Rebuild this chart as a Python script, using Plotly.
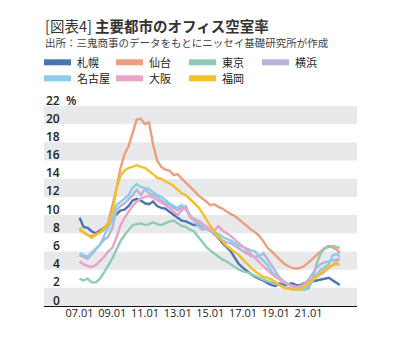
import pandas as pd
import plotly.graph_objects as go

# Quarterly sample dates (Jan/Apr/Jul/Oct) from 2007 plus the final month of 2022
dates = list(pd.date_range("2007-01-01", "2022-10-01", freq="QS").strftime("%Y-%m-%d")) + ["2022-12-01"]

# Office vacancy rate (%) by city
sapporo = [
    9.7, 8.7, 8.6, 8.2,
    8.0, 8.3, 8.5, 8.9,
    9.6, 10.1, 10.5, 10.6,
    11.0, 11.6, 11.8, 11.6,
    11.3, 11.2, 11.5, 11.0,
    10.8, 10.7, 10.4, 10.1,
    9.7, 9.4, 9.3, 9.1,
    8.9, 8.9, 8.8, 8.5,
    8.3, 7.9, 7.5, 6.9,
    6.5, 6.0, 5.3, 4.6,
    4.2, 3.8, 3.5, 3.2,
    3.0, 2.8, 2.5, 2.3,
    2.2, 2.5, 2.3, 2.4,
    2.5, 2.3, 2.3, 2.5,
    2.6, 2.7, 2.8, 2.9,
    3.0, 3.1, 2.8, 2.5,
    2.3,
]
sendai = [
    8.4, 8.1, 7.8, 7.7,
    7.9, 8.1, 8.4, 9.2,
    11.0, 12.8, 15.1, 16.7,
    17.6, 19.0, 20.5, 20.6,
    20.0, 20.2, 17.8, 16.0,
    15.3, 15.0, 14.9, 14.4,
    14.5, 14.0, 13.6, 13.1,
    12.7, 12.2, 11.9, 11.5,
    11.1, 11.2, 10.9, 10.7,
    10.4, 10.1, 9.9, 9.5,
    9.2, 8.8, 8.4, 8.1,
    7.7, 7.1, 6.4, 6.0,
    5.5, 5.1, 4.7, 4.4,
    4.2, 4.1, 4.2, 4.4,
    4.8, 5.2, 5.6, 6.1,
    6.4, 6.6, 6.4, 6.2,
    5.8,
]
tokyo = [
    3.0, 2.8, 3.0, 2.6,
    2.6, 3.0, 3.7, 4.4,
    5.2, 6.2, 7.1, 7.8,
    8.4, 8.9, 9.0, 9.1,
    8.9, 9.0, 9.2, 9.0,
    8.9, 9.1, 9.3, 9.4,
    9.1, 8.8, 8.7, 8.4,
    8.2, 7.6, 7.0, 6.5,
    6.1, 5.8, 5.5, 5.1,
    4.9, 4.6, 4.3, 4.0,
    3.8, 3.7, 3.5, 3.3,
    3.1, 2.9, 2.7, 2.6,
    2.4, 2.3, 2.1, 2.0,
    1.9, 1.8, 1.8, 1.8,
    1.9, 2.9, 4.6, 5.8,
    6.3, 6.5, 6.6, 6.5,
    6.4,
]
yokohama = [
    5.6, 5.4, 5.2, 5.7,
    6.2, 6.8, 7.3, 7.6,
    8.6, 10.5, 11.0, 11.3,
    11.7, 12.2, 12.8, 12.2,
    12.9, 12.4, 12.2, 12.0,
    11.6, 11.3, 11.1, 10.8,
    10.5, 10.8, 11.0, 9.8,
    9.4, 8.8, 8.4, 8.5,
    8.3, 7.9, 7.5, 7.2,
    7.0, 6.9, 6.6, 6.3,
    6.0, 5.7, 5.5, 5.4,
    5.5, 5.8, 5.1, 4.4,
    3.7, 3.1, 2.7, 2.4,
    2.2, 2.1, 2.2, 2.4,
    2.9, 3.6, 4.2, 4.6,
    4.8, 4.9, 5.0, 5.1,
    5.2,
]
nagoya = [
    5.8, 5.6, 5.4, 5.9,
    6.3, 6.7, 7.7, 8.6,
    9.5, 11.1, 11.5, 11.8,
    12.2, 13.0, 13.4, 13.1,
    13.0, 12.9, 12.5, 12.2,
    12.0, 11.6, 11.3, 11.0,
    10.8, 11.1, 10.5, 10.0,
    9.5, 9.1, 8.8, 8.6,
    8.4, 8.1, 7.9, 7.6,
    7.4, 7.2, 6.9, 6.6,
    6.5, 6.3, 6.1, 6.0,
    5.4, 5.0, 4.5, 3.8,
    3.3, 3.0, 2.7, 2.4,
    2.2, 1.9, 1.9, 1.9,
    2.2, 2.7, 3.5, 4.0,
    4.3, 4.6, 5.6, 5.7,
    5.4,
]
osaka = [
    4.9, 4.6, 4.4, 4.3,
    4.5, 4.9, 5.4, 6.0,
    6.4, 7.5, 8.8, 9.7,
    10.4, 11.0, 11.5, 11.8,
    12.0, 12.1, 11.9, 11.6,
    11.3, 11.1, 10.8, 10.4,
    10.0, 10.5, 10.9, 9.8,
    9.6, 9.4, 9.1, 8.7,
    8.4, 8.3, 8.8, 8.3,
    8.0, 7.7, 7.3, 6.9,
    6.5, 6.1, 5.7, 5.3,
    4.8, 4.4, 3.9, 3.5,
    3.2, 2.9, 2.6, 2.4,
    2.2, 2.1, 2.1, 2.3,
    2.7, 3.0, 3.2, 3.5,
    3.8, 4.2, 4.5, 4.9,
    5.2,
]
fukuoka = [
    8.6, 8.1, 7.8, 7.5,
    7.8, 8.1, 8.6, 9.0,
    10.2, 12.8, 14.3, 14.9,
    15.2, 15.3, 15.5, 15.3,
    15.2, 14.8, 14.5, 14.1,
    14.0, 13.7, 13.5, 13.2,
    12.8, 12.4, 12.2, 11.8,
    11.4, 10.9, 10.3, 9.5,
    8.8, 8.2, 7.6, 7.1,
    6.6, 6.3, 6.0, 5.6,
    5.1, 4.6, 4.2, 3.8,
    3.5, 3.2, 3.1, 2.9,
    2.6, 2.3, 2.0, 1.9,
    1.8, 1.8, 1.9, 2.1,
    2.5, 2.9, 3.3, 3.7,
    4.0, 4.3, 4.5, 4.6,
    4.6,
]

cities = ["札幌", "仙台", "東京", "横浜", "名古屋", "大阪", "福岡"]
series = [sapporo, sendai, tokyo, yokohama, nagoya, osaka, fukuoka]
colors = ["#4A74B4", "#EE9E7E", "#8DCBB6", "#B9B3D9", "#8ACDEB", "#E9A3C9", "#F3C02A"]

tick_vals = ["2007-01-01", "2009-01-01", "2011-01-01", "2013-01-01",
             "2015-01-01", "2017-01-01", "2019-01-01", "2021-01-01"]
tick_text = ["07.01", "09.01", "11.01", "13.01", "15.01", "17.01", "19.01", "21.01"]
y_ticks = [0, 2, 4, 6, 8, 10, 12, 14, 16, 18, 20, 22]

W, H = 398, 338
L, R, T, B = 44, 357, 106, 306   # plot area in pixels


def px_x(p):
    return (p - L) / (R - L)


def px_y(p):
    return (B - p) / (B - T)


fig = go.Figure()
for name, vals, col in zip(cities, series, colors):
    fig.add_trace(go.Scatter(
        x=dates, y=vals, mode="lines", name=name,
        line=dict(color=col, width=2.4), showlegend=False, hoverinfo="skip",
    ))

shapes = []
# alternating horizontal bands
for lo in range(0, 22, 4):
    shapes.append(dict(type="rect", xref="paper", yref="y", x0=0, x1=1, y0=lo, y1=lo + 2,
                       fillcolor="#E8E9EB", line=dict(width=0), layer="below"))

annotations = []
# y-axis labels sitting on top of their gridline
for v in y_ticks:
    annotations.append(dict(
        xref="paper", yref="paper", x=px_x(62), y=v / 22, yshift=6,
        xanchor="right", yanchor="middle", showarrow=False, text=str(v),
        font=dict(family="Open Sans", size=12, color="#222222", weight=600),
    ))
annotations.append(dict(
    xref="paper", yref="paper", x=px_x(64), y=1, yshift=6,
    xanchor="left", yanchor="middle", showarrow=False, text="%",
    font=dict(family="Open Sans", size=12, color="#222222", weight=600),
))

# legend: two rows of swatches and labels
cols_px = [44, 116, 189, 262]
rows_px = [62.3, 78.3]
for i, (name, col) in enumerate(zip(cities, colors)):
    r, c = (0, i) if i < 4 else (1, i - 4)
    x0 = cols_px[c]
    yc = rows_px[r]
    shapes.append(dict(type="rect", xref="paper", yref="paper",
                       x0=px_x(x0), x1=px_x(x0 + 27), y0=px_y(yc + 3), y1=px_y(yc - 3),
                       fillcolor=col, line=dict(width=0)))
    annotations.append(dict(
        xref="paper", yref="paper", x=px_x(x0 + 31), y=px_y(yc),
        xanchor="left", yanchor="middle", showarrow=False, text=name,
        font=dict(family="Noto Sans CJK JP", size=11, color="#222222"),
    ))

# title and source line
annotations.append(dict(
    xref="paper", yref="paper", x=px_x(43), y=px_y(25),
    xanchor="left", yanchor="middle", showarrow=False,
    text="[図表4] <b>主要都市のオフィス空室率</b>",
    font=dict(family="Noto Sans CJK JP", size=14.5, color="#333333"),
))
annotations.append(dict(
    xref="paper", yref="paper", x=px_x(43), y=px_y(42.5),
    xanchor="left", yanchor="middle", showarrow=False,
    text="出所：三鬼商事のデータをもとにニッセイ基礎研究所が作成",
    font=dict(family="Noto Sans CJK JP", size=10.5, color="#444444"),
))

fig.update_layout(
    width=W, height=H, autosize=False,
    margin=dict(l=L, r=W - R, t=T, b=H - B, pad=0),
    paper_bgcolor="white", plot_bgcolor="white",
    shapes=shapes, annotations=annotations,
    xaxis=dict(
        type="date", range=["2004-10-29", "2023-12-21"],
        tickvals=tick_vals, ticktext=tick_text,
        showgrid=False, zeroline=False, ticks="",
        showline=True, linecolor="#111111", linewidth=1.3,
        tickfont=dict(family="Open Sans", size=11, color="#222222"),
        ticklabelstandoff=-3,
        fixedrange=True,
    ),
    yaxis=dict(
        range=[0, 22], showticklabels=False, showgrid=False,
        zeroline=False, ticks="", fixedrange=True,
    ),
)

fig.write_html("out.html")
